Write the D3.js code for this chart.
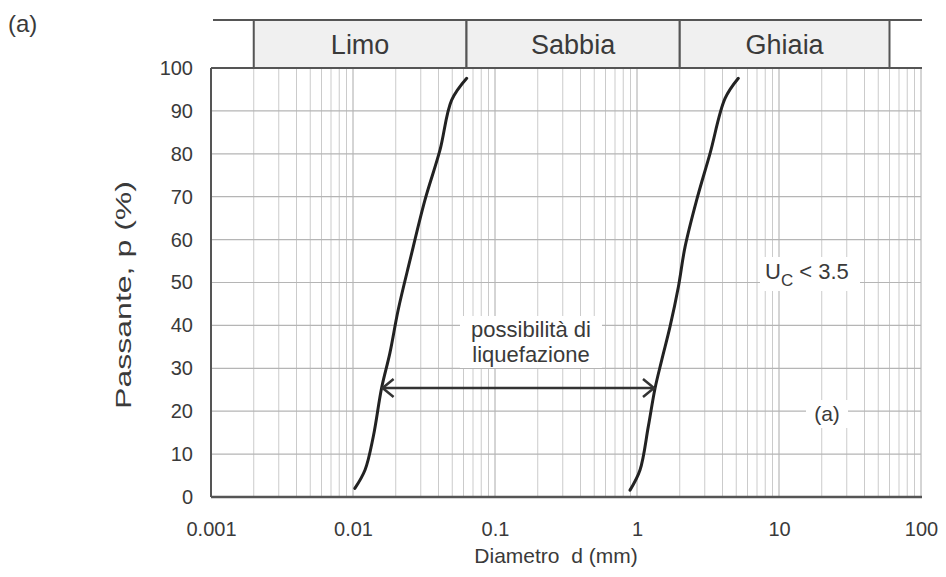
<!DOCTYPE html>
<html><head><meta charset="utf-8">
<script src="https://cdn.jsdelivr.net/npm/d3@7"></script>
<style>
body{margin:0;background:#fff}
text{font-family:"Liberation Sans",Arial,sans-serif;fill:#3a3a3a}
</style>
</head><body>
<svg id="c" width="946" height="577"></svg>
<script>
// ---- data ----
const xTickValues = [0.001, 0.01, 0.1, 1, 10, 100];
const xTickLabels = ["0.001", "0.01", "0.1", "1", "10", "100"];
const yTickValues = [0, 10, 20, 30, 40, 50, 60, 70, 80, 90, 100];
const zoneNames = ["Limo", "Sabbia", "Ghiaia"];
const zoneBounds = [0.002, 0.063, 2, 60];
// left boundary curve
const curveA_d = [0.0103, 0.01215, 0.0139, 0.0159, 0.0182, 0.0208, 0.0252, 0.0321, 0.041, 0.0495, 0.0632];
const curveA_p = [2.0, 6.3, 14.1, 25.4, 33.6, 43.6, 55.2, 69.2, 80.9, 92.5, 97.6];
// right boundary curve
const curveB_d = [0.893, 1.05, 1.201, 1.339, 1.493, 1.708, 1.954, 2.18, 2.63, 3.27, 4.17, 5.17];
const curveB_p = [1.6, 6.3, 16.4, 25.3, 31.9, 39.7, 48.9, 58.3, 69.2, 80.1, 92.9, 97.6];
const arrowP = 25.4;
const arrowD = [0.0159, 1.339];

// ---- chart ----
const svg = d3.select("#c");
const x = d3.scaleLog().domain([0.001, 100]).range([211, 921]);
const y = d3.scaleLinear().domain([0, 100]).range([497, 68]);
const [x0, x1] = x.range();
const [yb, yt] = y.range();

// grid (vertical minor/major)
const vGrid = [];
for (let k = -3; k <= 1; k++) for (let m = 1; m <= 9; m++) vGrid.push(+(m * Math.pow(10, k)).toPrecision(3));
vGrid.push(100);
svg.append("g").selectAll("line").data(vGrid).join("line")
  .attr("x1", d => x(d)).attr("x2", d => x(d))
  .attr("y1", yt).attr("y2", yb)
  .attr("stroke", d => xTickValues.includes(d) ? "#aaaaaa" : "#cbcbcb")
  .attr("stroke-width", 1);
// horizontal grid
svg.append("g").selectAll("line").data(yTickValues.slice(1, -1)).join("line")
  .attr("x1", x0).attr("x2", x1)
  .attr("y1", d => y(d)).attr("y2", d => y(d))
  .attr("stroke", "#b5b5b5").attr("stroke-width", 1.2);

// header band
svg.append("line").attr("x1", x0 + 2).attr("x2", x1 + 1).attr("y1", 20).attr("y2", 20)
  .attr("stroke", "#555").attr("stroke-width", 2);
const zoneData = zoneNames.map((n, i) => ({ n, a: zoneBounds[i], b: zoneBounds[i + 1] }));
const zg = svg.append("g");
zg.selectAll("rect").data(zoneData).join("rect")
  .attr("x", d => x(d.a)).attr("width", d => x(d.b) - x(d.a))
  .attr("y", 20).attr("height", yt - 20)
  .attr("fill", "#f0f0f0").attr("stroke", "#555").attr("stroke-width", 2);
zg.selectAll("text").data(zoneData).join("text")
  .attr("x", d => (x(d.a) + x(d.b)) / 2).attr("y", 54)
  .attr("text-anchor", "middle").attr("font-size", 27)
  .text(d => d.n);

// plot top line / axes lines
svg.append("line").attr("x1", x0).attr("x2", x1 + 1).attr("y1", yt).attr("y2", yt)
  .attr("stroke", "#555").attr("stroke-width", 2);
svg.append("line").attr("x1", x0).attr("x2", x0).attr("y1", yt).attr("y2", yb)
  .attr("stroke", "#555").attr("stroke-width", 2);
svg.append("line").attr("x1", x0).attr("x2", x1 + 1).attr("y1", yb).attr("y2", yb)
  .attr("stroke", "#555").attr("stroke-width", 2.5);

// axes (labels)
const xa = svg.append("g").attr("transform", `translate(0,${yb})`)
  .call(d3.axisBottom(x).tickValues(xTickValues).tickSize(0).tickPadding(25)
    .tickFormat((d, i) => xTickLabels[i]));
xa.select(".domain").remove();
xa.selectAll("text").attr("font-size", 20).attr("font-family", "Liberation Sans, Arial, sans-serif").attr("fill", "#3a3a3a");
const ya = svg.append("g").attr("transform", `translate(${x0},0)`)
  .call(d3.axisLeft(y).tickValues(yTickValues).tickSize(0).tickPadding(18));
ya.select(".domain").remove();
ya.selectAll("text").attr("font-size", 20).attr("font-family", "Liberation Sans, Arial, sans-serif").attr("fill", "#3a3a3a");

// axis titles
svg.append("text").attr("x", 556).attr("y", 563).attr("text-anchor", "middle")
  .attr("font-size", 21).style("white-space", "pre").text("Diametro  d (mm)");
svg.append("text").attr("transform", "translate(131,295) rotate(-90)")
  .attr("text-anchor", "middle").attr("font-size", 22)
  .attr("textLength", 228).attr("lengthAdjust", "spacingAndGlyphs")
  .text("Passante, p (%)");

// text backgrounds
svg.append("rect").attr("x", 460).attr("y", 316).attr("width", 142).attr("height", 52).attr("fill", "#fff");
svg.append("rect").attr("x", 760).attr("y", 257).attr("width", 100).attr("height", 34).attr("fill", "#fff");
svg.append("rect").attr("x", 806).attr("y", 400).attr("width", 42).attr("height", 28).attr("fill", "#fff");

// curves
const line = d3.line().x(d => x(d[0])).y(d => y(d[1])).curve(d3.curveCatmullRom.alpha(0.5));
const cA = curveA_d.map((d, i) => [d, curveA_p[i]]);
const cB = curveB_d.map((d, i) => [d, curveB_p[i]]);
svg.append("path").attr("d", line(cA)).attr("fill", "none").attr("stroke", "#222").attr("stroke-width", 3).attr("stroke-linecap", "round");
svg.append("path").attr("d", line(cB)).attr("fill", "none").attr("stroke", "#222").attr("stroke-width", 3).attr("stroke-linecap", "round");

// arrow
const ay = y(arrowP), axL = x(arrowD[0]), axR = x(arrowD[1]);
svg.append("line").attr("x1", axL + 2).attr("x2", axR - 2).attr("y1", ay).attr("y2", ay)
  .attr("stroke", "#333").attr("stroke-width", 2.5);
svg.append("path").attr("d", `M${axL + 12},${ay - 9} L${axL + 1},${ay} L${axL + 12},${ay + 9}`)
  .attr("fill", "none").attr("stroke", "#333").attr("stroke-width", 2.5).attr("stroke-linejoin", "miter");
svg.append("path").attr("d", `M${axR - 12},${ay - 9} L${axR - 1},${ay} L${axR - 12},${ay + 9}`)
  .attr("fill", "none").attr("stroke", "#333").attr("stroke-width", 2.5).attr("stroke-linejoin", "miter");

// annotations
svg.append("text").attr("x", 531).attr("y", 337).attr("text-anchor", "middle").attr("font-size", 22).text("possibilità di");
svg.append("text").attr("x", 531).attr("y", 362).attr("text-anchor", "middle").attr("font-size", 22).text("liquefazione");
const uc = svg.append("text").attr("x", 765).attr("y", 279).attr("font-size", 22);
uc.append("tspan").text("U");
uc.append("tspan").attr("dy", 7).attr("font-size", 17).text("C");
uc.append("tspan").attr("dy", -7).text(" < 3.5");
svg.append("text").attr("x", 827).attr("y", 421).attr("text-anchor", "middle").attr("font-size", 21).text("(a)");
svg.append("text").attr("x", 8).attr("y", 32).attr("font-size", 24)
  .attr("font-family", "DejaVu Sans, sans-serif").text("(a)");
</script>
</body></html>
